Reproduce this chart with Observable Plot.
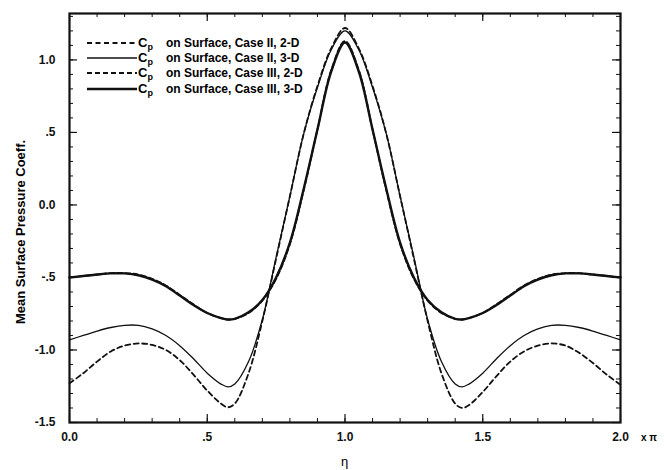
<!DOCTYPE html>
<html>
<head>
<meta charset="utf-8">
<script src="https://cdn.jsdelivr.net/npm/d3@7"></script>
<script src="https://cdn.jsdelivr.net/npm/@observablehq/plot@0.6"></script>
<style>
  html, body { margin: 0; padding: 0; background: #fff; }
  #chart { width: 664px; height: 470px; }
</style>
</head>
<body>
<div id="chart"></div>
<script>
// η (in units of π)
const eta = [0, .05, .1, .15, .2, .25, .3, .35, .4, .45, .5, .55, .575, .6, .65, .7, .75, .8, .85, .9, .95, 1.0,
             1.05, 1.1, 1.15, 1.2, 1.25, 1.3, 1.35, 1.4, 1.425, 1.45, 1.5, 1.55, 1.6, 1.65, 1.7, 1.75, 1.8, 1.85, 1.9, 1.95, 2.0];

const caseII2D = [-1.23, -1.16, -1.08, -1.01, -0.97, -0.955, -0.965, -1.0, -1.07, -1.17, -1.28, -1.37, -1.395, -1.37, -1.16, -0.80, -0.37, 0.06, 0.49, 0.82, 1.08, 1.22,
                  1.08, 0.82, 0.49, 0.06, -0.37, -0.80, -1.16, -1.37, -1.40, -1.38, -1.29, -1.18, -1.08, -1.01, -0.97, -0.955, -0.97, -1.02, -1.09, -1.17, -1.24];

const caseII3D = [-0.93, -0.90, -0.87, -0.845, -0.83, -0.83, -0.855, -0.90, -0.97, -1.06, -1.16, -1.235, -1.255, -1.235, -1.08, -0.79, -0.36, 0.06, 0.49, 0.81, 1.07, 1.20,
                  1.07, 0.81, 0.49, 0.06, -0.36, -0.79, -1.08, -1.235, -1.255, -1.235, -1.16, -1.06, -0.97, -0.90, -0.855, -0.83, -0.83, -0.845, -0.87, -0.90, -0.93];

const caseIII2D = [-0.50, -0.49, -0.48, -0.47, -0.47, -0.48, -0.51, -0.555, -0.62, -0.685, -0.745, -0.78, -0.79, -0.785, -0.745, -0.66, -0.51, -0.27, 0.10, 0.52, 0.93, 1.13,
                   0.93, 0.52, 0.10, -0.27, -0.51, -0.66, -0.745, -0.785, -0.79, -0.78, -0.745, -0.685, -0.62, -0.555, -0.51, -0.48, -0.47, -0.47, -0.48, -0.49, -0.50];

const caseIII3D = [-0.50, -0.49, -0.48, -0.472, -0.472, -0.485, -0.515, -0.56, -0.625, -0.69, -0.745, -0.78, -0.79, -0.785, -0.74, -0.655, -0.50, -0.26, 0.11, 0.52, 0.92, 1.12,
                   0.92, 0.52, 0.11, -0.26, -0.50, -0.655, -0.74, -0.785, -0.79, -0.78, -0.745, -0.69, -0.625, -0.56, -0.515, -0.485, -0.472, -0.472, -0.48, -0.49, -0.50];

const seriesNames = ["on Surface, Case II, 2-D", "on Surface, Case II, 3-D", "on Surface, Case III, 2-D", "on Surface, Case III, 3-D"];

const xTicks = [0, 0.5, 1.0, 1.5, 2.0];
const xTickLabels = ["0.0", ".5", "1.0", "1.5", "2.0"];
const yTicks = [-1.5, -1.0, -0.5, 0.0, 0.5, 1.0];
const yTickLabels = ["-1.5", "-1.0", "-.5", "0.0", ".5", "1.0"];

const yLabel = "Mean Surface Pressure Coeff.";
const xLabel = "η";
const xUnit = "x π";

// layout
const W = 664, H = 470;
const mT = 13, mR = 44, mB = 48, mL = 69;
const pW = W - mL - mR, pH = H - mT - mB;

const xMinor = d3.range(0, 2.0001, 0.1);
const yMinor = d3.range(-1.5, 1.3201, 0.1);

const styles = [
  {data: caseII2D, strokeWidth: 1.8, dash: "5,3.5"},
  {data: caseII3D, strokeWidth: 1.3, dash: null},
  {data: caseIII2D, strokeWidth: 1.8, dash: "5,3"},
  {data: caseIII3D, strokeWidth: 2.4, dash: null}
];

const rows = (arr) => eta.map((x, i) => ({x, y: arr[i]}));
const xLab = new Map(xTicks.map((t, i) => [t, xTickLabels[i]]));
const yLab = new Map(yTicks.map((t, i) => [t, yTickLabels[i]]));

const ink = "#111111";

const chart = Plot.plot({
  width: W, height: H,
  marginTop: mT, marginRight: mR, marginBottom: mB, marginLeft: mL,
  x: {domain: [0, 2]},
  y: {domain: [-1.5, 1.32]},
  style: {fontFamily: "'Liberation Sans', Arial, sans-serif", fontSize: "12px", fontWeight: "bold", background: "#fff", color: ink},
  marks: [
    Plot.axisX(xTicks, {tickSize: 0, tickPadding: 10, tickFormat: d => xLab.get(d), label: null, fontSize: 12}),
    Plot.axisY(yTicks, {tickSize: 0, tickPadding: 14, tickFormat: d => yLab.get(d), label: null, fontSize: 12}),
    // inward ticks
    Plot.ruleX(xMinor, {insetTop: pH - 4, stroke: ink, strokeWidth: 1}),
    Plot.ruleX(xMinor, {insetBottom: pH - 4, stroke: ink, strokeWidth: 1}),
    Plot.ruleX(xTicks, {insetTop: pH - 8, stroke: ink, strokeWidth: 1.2}),
    Plot.ruleX(xTicks, {insetBottom: pH - 8, stroke: ink, strokeWidth: 1.2}),
    Plot.ruleY(yMinor, {insetRight: pW - 4, stroke: ink, strokeWidth: 1}),
    Plot.ruleY(yMinor, {insetLeft: pW - 4, stroke: ink, strokeWidth: 1}),
    Plot.ruleY(yTicks, {insetRight: pW - 8, stroke: ink, strokeWidth: 1.2}),
    Plot.ruleY(yTicks, {insetLeft: pW - 8, stroke: ink, strokeWidth: 1.2}),
    ...styles.map(s => Plot.line(rows(s.data), {
      x: "x", y: "y", curve: "catmull-rom", stroke: ink,
      strokeWidth: s.strokeWidth, strokeDasharray: s.dash
    })),
    Plot.frame({stroke: ink, strokeWidth: 2.2})
  ]
});

const svg = d3.select(chart);

// axis titles
svg.append("text")
  .attr("transform", `translate(25,232) rotate(-90)`)
  .attr("text-anchor", "middle")
  .attr("font-size", 13).attr("font-weight", "bold").attr("fill", "#000")
  .text(yLabel);

svg.append("text")
  .attr("x", mL + pW / 2).attr("y", 466)
  .attr("text-anchor", "middle")
  .attr("font-size", 13).attr("font-weight", "normal").attr("fill", "#000")
  .text(xLabel);

svg.append("text")
  .attr("x", 641).attr("y", 441)
  .attr("text-anchor", "start")
  .attr("font-size", 10).attr("font-weight", "bold").attr("fill", "#000")
  .text(xUnit);

// legend
const legY = [43, 58, 73, 89];
const lg = svg.append("g").attr("text-anchor", "start");
styles.forEach((s, i) => {
  const y = legY[i];
  lg.append("line")
    .attr("x1", 87).attr("x2", 137).attr("y1", y).attr("y2", y)
    .attr("stroke", ink).attr("stroke-width", s.strokeWidth)
    .attr("stroke-dasharray", s.dash);
  const t = lg.append("text")
    .attr("x", 138).attr("y", y + 4)
    .attr("text-anchor", "start")
    .attr("font-size", 13).attr("font-weight", "bold").attr("fill", "#000");
  t.append("tspan").text("C");
  t.append("tspan").attr("font-size", 9).attr("dy", 3).text("p");
  lg.append("text")
    .attr("x", 166).attr("y", y + 4)
    .attr("text-anchor", "start")
    .attr("font-size", 12).attr("font-weight", "bold").attr("fill", "#000")
    .text(seriesNames[i]);
});

document.getElementById("chart").appendChild(chart);
</script>
</body>
</html>
